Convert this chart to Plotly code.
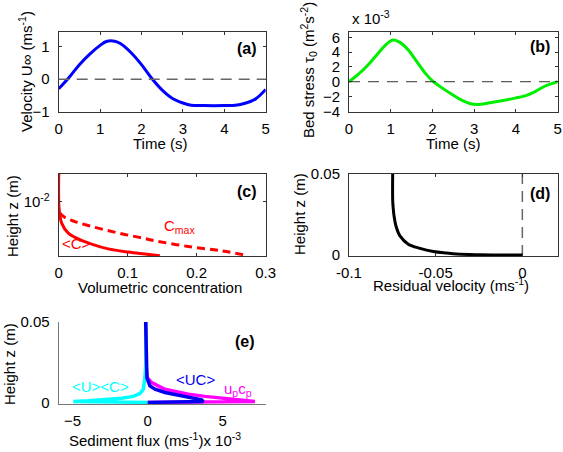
import plotly.graph_objects as go

# ---------------- data ----------------
# (a) free-stream velocity
t_a = [0, 0.25, 0.5, 0.75, 1.0, 1.15, 1.35, 1.5, 1.75, 2.0, 2.25, 2.5, 2.75, 3.0, 3.2, 3.5, 4.0, 4.27, 4.5, 4.75, 5.0]
u_a = [-0.3, 0.05, 0.45, 0.78, 1.05, 1.17, 1.18, 1.1, 0.82, 0.45, 0.02, -0.34, -0.6, -0.74, -0.81, -0.82, -0.82, -0.81, -0.75, -0.62, -0.32]

# (b) bed stress (x 1e-3)
t_b = [0, 0.22, 0.46, 0.7, 0.9, 1.06, 1.22, 1.42, 1.62, 1.82, 2.02, 2.22, 2.46, 2.7, 2.94, 3.1, 3.34, 3.66, 3.98, 4.22, 4.46, 4.7, 5.0]
tau_b = [0, 0.98, 2.3, 3.87, 5.1, 5.64, 5.33, 4.3, 2.76, 1.2, 0, -0.8, -1.69, -2.49, -3.02, -3.07, -2.89, -2.58, -2.22, -1.91, -1.33, -0.58, 0]

# (c) concentration profiles
c_mean = [0, 0, 0.0005, 0.0043, 0.0139, 0.0283, 0.0477, 0.0718, 0.1007, 0.1249, 0.1466]
z_cmean = [0.025, 0.0242, 0.00802, 0.00489, 0.00351, 0.0029, 0.00244, 0.00208, 0.00187, 0.00175, 0.00165]
c_max = [0, 0.0005, 0.0091, 0.0236, 0.0428, 0.067, 0.0912, 0.1153, 0.1394, 0.1876, 0.2359, 0.2744]
z_cmax = [0.025, 0.00718, 0.00588, 0.00515, 0.00451, 0.00391, 0.00343, 0.00307, 0.00272, 0.00225, 0.00195, 0.00166]

# (d) residual velocity
v_d = [-0.0748, -0.0748, -0.0745, -0.074, -0.0729, -0.0706, -0.0658, -0.059, -0.0513, -0.0437, -0.038, -0.0244, 0.0]
z_d = [0.05, 0.034, 0.029, 0.024, 0.0179, 0.0118, 0.0067, 0.0041, 0.0022, 0.0012, 0.0006, 0.0002, 0.0]

# (e) sediment flux (x 1e-3)
flux_pc = [-0.13, -0.11, -0.03, 0.27, 1.15, 2.71, 3.82, 4.93, 6.27, 7.15, 0.0]
z_pc = [0.05, 0.0238, 0.0157, 0.0126, 0.0085, 0.0055, 0.0041, 0.0029, 0.0018, 0.001, 0.0004]
flux_uc_sep = [-0.13, -0.12, -0.18, -0.29, -0.51, -0.96, -1.73, -2.84, -3.96, -4.96, 0.0]
z_uc_sep = [0.05, 0.025, 0.0157, 0.0085, 0.0059, 0.0041, 0.0029, 0.002, 0.0014, 0.001, 0.0004]
flux_uc = [-0.13, -0.11, -0.05, 0.15, 0.49, 1.15, 2.04, 2.93, 3.6, 3.71, 0.0]
z_uc = [0.05, 0.0238, 0.0157, 0.0106, 0.0085, 0.0065, 0.0049, 0.0035, 0.002, 0.001, 0.0004]

# ---------------- figure ----------------
W, H = 563, 452
FONT = "Liberation Sans, Arial, Helvetica, sans-serif"
AX = "#333333"
FS = 15

def px_x(p):
    return p / W

def px_y(p):
    return 1 - p / H

fig = go.Figure()

fig.add_trace(go.Scatter(x=t_a, y=u_a, mode="lines", line=dict(color="#0000ff", width=3, shape="spline"),
                         xaxis="x", yaxis="y", showlegend=False))
fig.add_trace(go.Scatter(x=t_b, y=tau_b, mode="lines", line=dict(color="#00ee00", width=3, shape="spline"),
                         xaxis="x2", yaxis="y2", showlegend=False))
fig.add_trace(go.Scatter(x=c_mean, y=z_cmean, mode="lines", line=dict(color="#ff0000", width=3, shape="spline"),
                         xaxis="x3", yaxis="y3", showlegend=False))
fig.add_trace(go.Scatter(x=c_max, y=z_cmax, mode="lines", line=dict(color="#ff0000", width=3, dash="8px,5px", shape="spline"),
                         xaxis="x3", yaxis="y3", showlegend=False))
fig.add_trace(go.Scatter(x=v_d, y=z_d, mode="lines", line=dict(color="#000000", width=3, shape="spline"),
                         xaxis="x4", yaxis="y4", showlegend=False))
fig.add_trace(go.Scatter(x=flux_pc, y=z_pc, mode="lines", line=dict(color="#ff00ff", width=3.5),
                         xaxis="x5", yaxis="y5", showlegend=False))
fig.add_trace(go.Scatter(x=flux_uc_sep, y=z_uc_sep, mode="lines", line=dict(color="#00ffff", width=3.5),
                         xaxis="x5", yaxis="y5", showlegend=False))
fig.add_trace(go.Scatter(x=flux_uc, y=z_uc, mode="lines", line=dict(color="#0000ee", width=3.5),
                         xaxis="x5", yaxis="y5", showlegend=False))

tickfont = dict(family=FONT, size=FS, color="#000")

def ax(domain, rng, anchor, mirror=True, is_y=False, **kw):
    d = dict(domain=domain, range=rng, anchor=anchor, showline=True, linecolor=AX, linewidth=1,
             mirror="ticks" if mirror else False, ticks="inside", ticklen=3, tickcolor=AX,
             showgrid=False, zeroline=False, tickfont=tickfont, automargin=False,
             ticklabelstandoff=5 if is_y else 3)
    d.update(kw)
    return d

xa = [px_x(58.7), px_x(265.7)]
xb = [px_x(349), px_x(557.7)]
ytop = [px_y(112), px_y(31.5)]
ymid = [px_y(256), px_y(174)]
ybot = [px_y(404), px_y(322)]

fig.update_layout(
    width=W, height=H, margin=dict(l=0, r=0, t=0, b=0, autoexpand=False),
    paper_bgcolor="white", plot_bgcolor="white",
    font=dict(family=FONT, size=FS, color="#000"),
    xaxis=ax(xa, [0, 5], "y", tickvals=[0, 1, 2, 3, 4, 5]),
    yaxis=ax(ytop, [-1.02, 1.48], "x", is_y=True, tickvals=[-1, 0, 1]),
    xaxis2=ax(xb, [0, 5], "y2", tickvals=[0, 1, 2, 3, 4, 5]),
    yaxis2=ax(ytop, [-4.1, 6.8], "x2", is_y=True, tickvals=[-4, -2, 0, 2, 4, 6]),
    xaxis3=ax(xa, [0, 0.3], "y3", tickvals=[0, 0.1, 0.2, 0.3], ticktext=["0", "0.1", "0.2", "0.3"]),
    yaxis3=ax(ymid, [-2.785, -1.602], "x3", is_y=True, type="log", tickvals=[0.01], ticktext=["10<sup>-2</sup>"]),
    xaxis4=ax(xb, [-0.1, 0.0204], "y4", tickvals=[-0.1, -0.05, 0], ticktext=["-0.1", "-0.05", "0"]),
    yaxis4=ax(ymid, [-0.0006, 0.05], "x4", is_y=True, tickvals=[0, 0.05], ticktext=["0", "0.05"]),
    xaxis5=ax([px_x(58.7), px_x(266)], [-5.93, 7.89], "y5", mirror=False, tickvals=[-5, 0, 5],
              linecolor="#777777", ticklen=0),
    yaxis5=ax(ybot, [-0.0006, 0.05], "x5", mirror=False, is_y=True, tickvals=[0, 0.05], ticktext=["0", "0.05"],
              linecolor="#777777", ticklen=0),
)

# reference lines
fig.add_shape(type="line", xref="x domain", x0=0, x1=1, yref="y", y0=0, y1=0,
              line=dict(color="#666666", width=1.5, dash="11px,7px"))
fig.add_shape(type="line", xref="x2 domain", x0=0, x1=1, yref="y2", y0=0, y1=0,
              line=dict(color="#333333", width=1, dash="11px,8px"))
fig.add_shape(type="line", xref="x4", x0=0, x1=0, yref="y4 domain", y0=0, y1=1,
              line=dict(color="#666666", width=1.5, dash="11px,7px"), layer="below")

def ann(text, x, y, size=FS, color="#000", angle=0, xanchor="center", yanchor="middle", bold=False):
    if bold:
        text = "<b>" + text + "</b>"
    fig.add_annotation(text=text, x=px_x(x), y=px_y(y), xref="paper", yref="paper",
                       showarrow=False, textangle=angle, xanchor=xanchor, yanchor=yanchor,
                       font=dict(family=FONT, size=size, color=color))

# panel labels
ann("(a)", 247, 48.5, size=16, bold=True)
ann("(b)", 540, 46.7, size=16, bold=True)
ann("(c)", 246.7, 191.7, size=16, bold=True)
ann("(d)", 539.5, 193.5, size=16, bold=True)
ann("(e)", 245, 341.5, size=16, bold=True)

# axis titles
ann("Time (s)", 160, 143)
ann("Time (s)", 452.5, 143)
ann("Volumetric concentration", 160, 287)
ann("Residual velocity (ms<sup>-1</sup>)", 451, 284)
ann("Sediment flux (ms<sup>-1</sup>)x 10<sup>-3</sup>", 155, 439)
ann("Velocity U∞ (ms<sup>-1</sup>)", 25, 72, angle=-90)
ann("Bed stress τ<sub>0</sub> (m<sup>2</sup>s<sup>-2</sup>)", 308, 70, angle=-90)
ann("Height z (m)", 12, 216, angle=-90)
ann("Height z (m)", 300, 214, angle=-90)
ann("Height z (m)", 9, 364, angle=-90)
ann("x 10<sup>-3</sup>", 350, 17, xanchor="left")

# curve labels
ann("&lt;C&gt;", 76, 243, size=15, color="#ff0000")
ann("C<sub>max</sub>", 162, 227, size=15, color="#ff0000", xanchor="left")
ann("&lt;U&gt;&lt;C&gt;", 100.5, 386.5, size=15, color="#00ffff")
ann("&lt;UC&gt;", 195.5, 379, size=15, color="#0000ee")
ann("u<sub>p</sub>c<sub>p</sub>", 222, 389, size=15, color="#ff00ff", xanchor="left")

fig.write_html("out.html", config={"displayModeBar": False},
               post_script="document.body.style.margin='0';document.body.style.overflow='hidden';")
